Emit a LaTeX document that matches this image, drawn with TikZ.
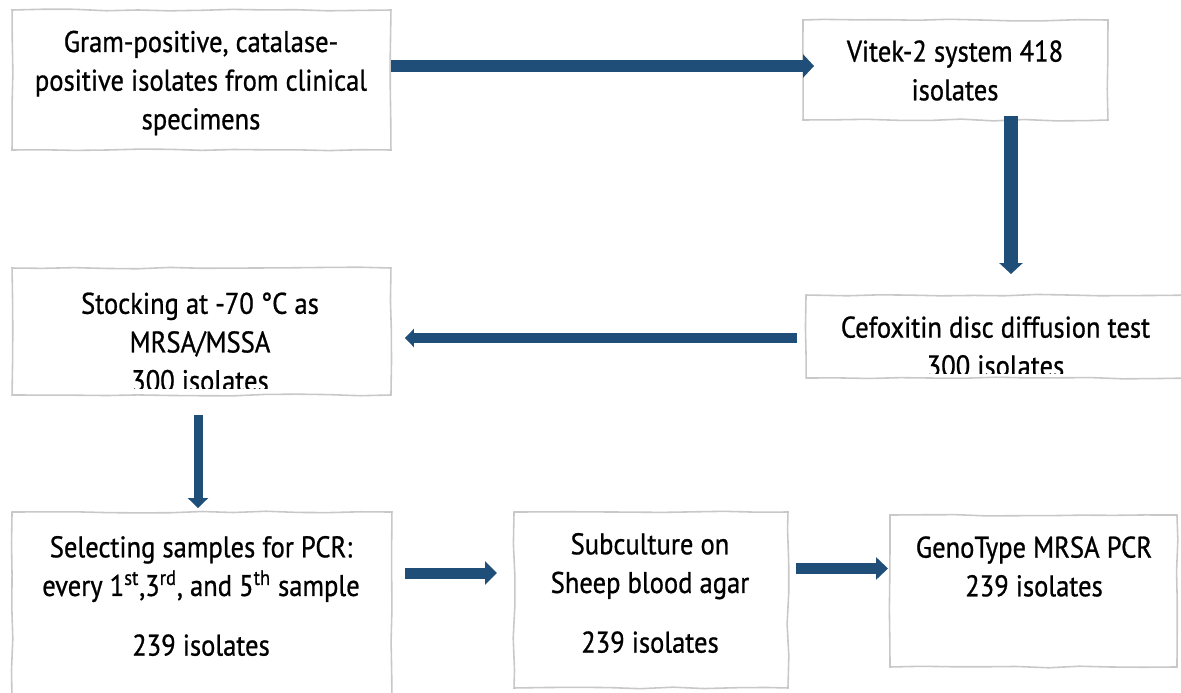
\documentclass[tikz,border=0pt]{standalone}
\usepackage{fontspec}
\setmainfont{PT Sans}[FakeStretch=0.89, FakeBold=0.8]
\usepackage{tikz}
\usetikzlibrary{arrows.meta,decorations.pathmorphing}
\definecolor{arrowblue}{RGB}{31,78,121}
\definecolor{sketchgray}{RGB}{200,200,200}
\tikzset{
  sketchbox/.style={draw=sketchgray, line width=0.9pt, inner sep=0pt, outer sep=0pt,
    decorate, decoration={random steps, segment length=18pt, amplitude=0.5pt}},
  lbl/.style={align=center, inner sep=0pt, font=\fontsize{17}{22}\selectfont},
  flow/.style={draw=arrowblue},
}
\pgfmathsetseed{7}

\begin{document}
\begin{tikzpicture}[x=0.02cm, y=-0.02cm]
  \useasboundingbox (0,0) rectangle (1181,693);
  \clip (0,0) rectangle (1181,693);
  % boxes
  \draw (201.5,80) node (gram) [sketchbox, minimum width=7.58cm, minimum height=2.8cm] {};
  \draw (955.5,70) node (vitek) [sketchbox, minimum width=6.1cm, minimum height=2cm] {};
  \draw (201.5,331.5) node (stock) [sketchbox, minimum width=7.58cm, minimum height=2.54cm] {};
  \draw (1000.5,336.5) node (cefox) [sketchbox, minimum width=7.78cm, minimum height=1.66cm] {};
  \draw (202,608.5) node (select) [sketchbox, minimum width=7.6cm, minimum height=3.86cm] {};
  \draw (651,600) node (subcult) [sketchbox, minimum width=5.48cm, minimum height=3.52cm] {};
  \draw (1033.5,591) node (geno) [sketchbox, minimum width=5.74cm, minimum height=3.04cm] {};

  % texts
  \draw (201,83) node (gramtxt) [lbl] {Gram-positive, catalase-\\positive isolates from clinical\\specimens};
  \draw (955,70.5) node (vitektxt) [lbl] {Vitek-2 system 418\\isolates};
  \begin{scope}
    \clip (stock.north west) rectangle (stock.east |- 0,388);
    \draw (200,342) node (stocktxt) [lbl] {Stocking at -70 °C as\\MRSA/MSSA\\300 isolates};
  \end{scope}
  \begin{scope}
    \clip (cefox.north west) rectangle (cefox.east |- 0,373);
    \draw (995.5,346.5) node (cefoxtxt) [lbl] {Cefoxitin disc diffusion test\\300 isolates};
  \end{scope}
  \draw (201,596) node (selecttxt) [lbl] {Selecting samples for PCR:\\every 1\textsuperscript{st},3\textsuperscript{rd}, and 5\textsuperscript{th} sample\\[0.42cm]239 isolates};
  \draw (650,593) node (subculttxt) [lbl] {Subculture on\\Sheep blood agar\\[0.42cm]239 isolates};
  \draw (1034,566.5) node (genotxt) [lbl] {GenoType MRSA PCR\\239 isolates};

  % arrows
  \draw[flow, line width=0.24cm, -{Triangle[length=0.22cm,width=0.46cm]}, shorten >=-0.22cm]
    (gram.east |- 0,66) -- (vitek.west |- 0,66);
  \draw[flow, line width=0.28cm, -{Triangle[length=0.22cm,width=0.46cm]}, shorten <=-0.08cm, shorten >=0.42cm]
    (1011,0 |- vitek.south) -- (1011,0 |- cefox.north);
  \draw[flow, line width=0.2cm, -{Triangle[length=0.18cm,width=0.36cm]}, shorten <=0.18cm, shorten >=0.28cm]
    (cefox.west |- 0,338) -- (stock.east |- 0,338);
  \draw[flow, line width=0.18cm, -{Triangle[length=0.2cm,width=0.4cm]}, shorten <=0.4cm, shorten >=0.08cm]
    (198,0 |- stock.south) -- (198,0 |- select.north);
  \draw[flow, line width=0.22cm, -{Triangle[length=0.24cm,width=0.46cm]}, shorten <=0.26cm, shorten >=0.34cm]
    (select.east |- 0,573) -- (subcult.west |- 0,573);
  \draw[flow, line width=0.22cm, -{Triangle[length=0.24cm,width=0.44cm]}, shorten <=0.16cm, shorten >=0.04cm]
    (subcult.east |- 0,568.5) -- (geno.west |- 0,568.5);
\end{tikzpicture}
\end{document}
